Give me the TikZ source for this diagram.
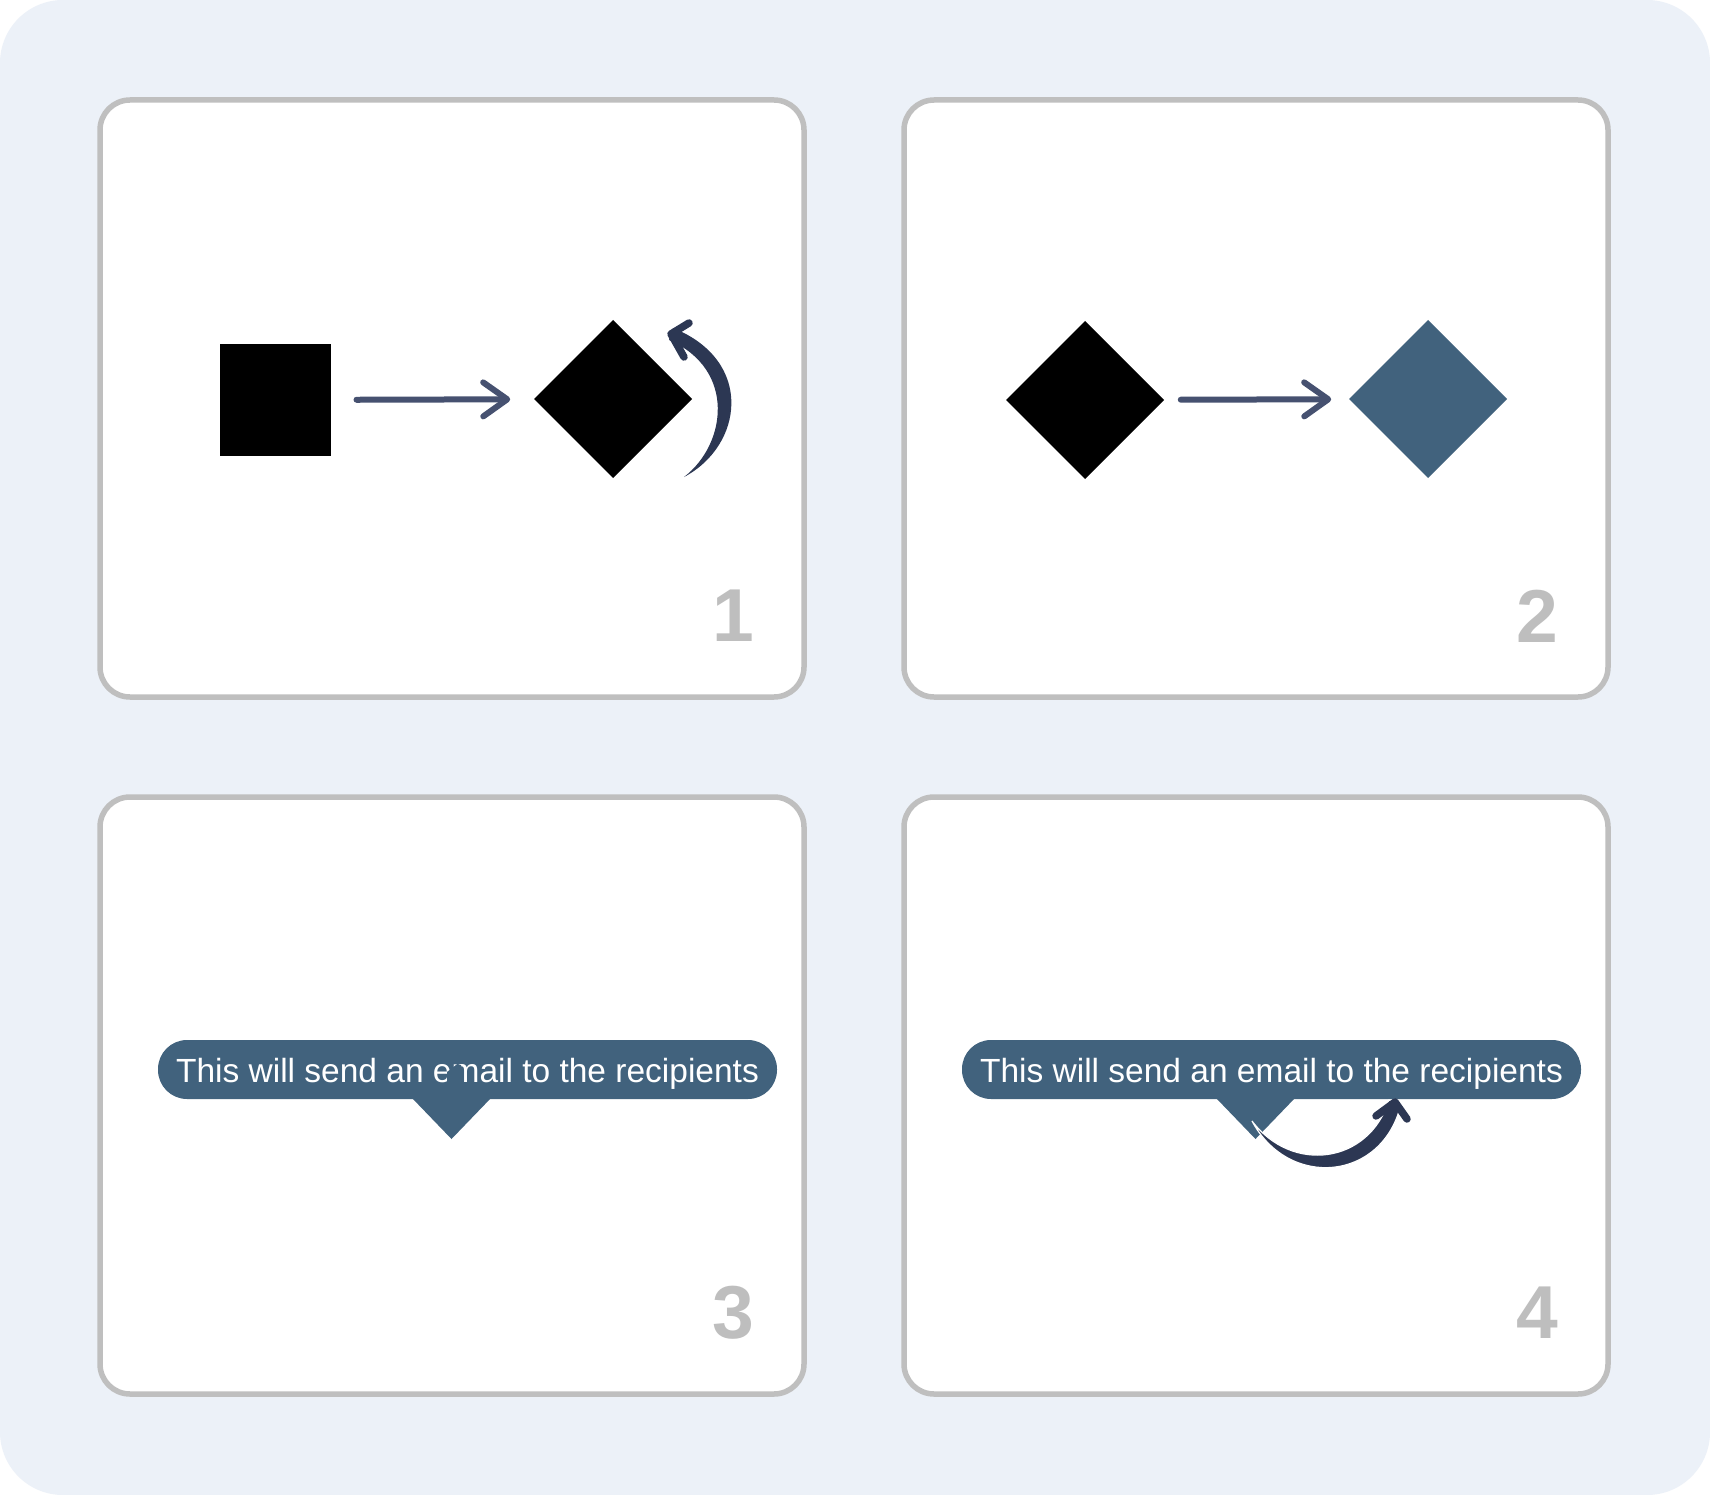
\documentclass[tikz,border=0pt]{standalone}
\usepackage{fontspec}
\setmainfont{Liberation Sans}
\usetikzlibrary{shapes.geometric,arrows.meta,calc}
\definecolor{bgc}{HTML}{ECF1F8}
\definecolor{panelc}{HTML}{BFBFBF}
\definecolor{tipc}{HTML}{41627D}
\definecolor{arrc}{HTML}{465170}
\definecolor{navyc}{HTML}{2C3753}
\definecolor{numc}{HTML}{BEBEBE}
\begin{document}
\begin{tikzpicture}[x=1pt,y=-1pt,
  panel/.style={draw=panelc, line width=5.5pt, fill=white, rounded corners=30pt,
    minimum width=704pt, minimum height=597pt, inner sep=0pt, outer sep=0pt},
  sqbox/.style={rectangle, fill=black, minimum size=111pt, inner sep=0pt, outer sep=0pt},
  dia/.style={diamond, aspect=1, minimum width=158pt, minimum height=158pt, inner sep=0pt, outer sep=0pt},
  flowarrow/.style={draw=arrc, line width=6pt, line cap=round,
    -{Straight Barb[length=24pt,width=34pt,round]}},
  tipbox/.style={rectangle, fill=tipc, text=white, rounded corners=29pt,
    minimum width=619pt, minimum height=59pt, inner sep=0pt,
    text height=28pt, text depth=3pt,
    font=\fontsize{33.5}{40}\selectfont},
  numlbl/.style={text=numc, inner sep=0pt, font=\fontsize{75}{90}\selectfont\bfseries},
  chev/.style={draw=navyc, line width=7.5pt, line cap=round, line join=round},
]
\useasboundingbox (0,0) rectangle (1710,1495);
\fill[white] (0,0) rectangle (1710,1495);
\fill[bgc, rounded corners=63pt] (0,0) rectangle (1710,1495);

% panels
\node[panel] (p1) at (452,398.5) {};
\node[panel] (p2) at (1256,398.5) {};
\node[panel] (p3) at (452,1095.5) {};
\node[panel] (p4) at (1256,1095.5) {};

% numbers
\node[numlbl] (n1) at (733,616) {1};
\node[numlbl] (n2) at (1537,616) {2};
\node[numlbl] (n3) at (733,1313) {3};
\node[numlbl] (n4) at (1537,1313) {4};

% panel 1
\node[sqbox] (sq) at (275,400) {};
\node[dia, fill=black] (d1) at (613,399) {};
\draw[flowarrow, shorten <=26pt, shorten >=24pt] (sq) -- (d1);
\coordinate (c1s) at (684,477);
\coordinate (c1e) at (671,334);
\fill[navyc] (c1s) .. controls (743,446) and (755,361) .. (673,328)
  -- (669,340) .. controls (736,369) and (727,444) .. (c1s) -- cycle;
\draw[chev] (689,323) -- (c1e) -- (684,357);

% panel 2
\node[dia, fill=black] (d2) at (1085,400) {};
\node[dia, fill=tipc] (d3) at (1428,399) {};
\draw[flowarrow, shorten <=17pt, shorten >=18pt] (d2) -- (d3);

% panel 3
\node[tipbox] (t3) at (467.5,1069.5) {This will send an email to the recipients};
\fill[tipc] (412,1098) -- (491,1098) -- (451.5,1139) -- cycle;
\fill[tipc] (447,1072) -- (456,1065) -- (461,1065) -- (461,1091) -- (447,1091) -- cycle;

% panel 4
\node[tipbox] (t4) at (1271.5,1069.5) {This will send an email to the recipients};
\fill[tipc] (1216,1098) -- (1295,1098) -- (1255.5,1139) -- cycle;
\coordinate (c4s) at (1252,1121);
\coordinate (c4e) at (1395,1102);
\filldraw[fill=navyc, draw=white, line width=1.2pt]
  (c4s) .. controls (1289,1190) and (1383,1181) .. (1401,1104)
  -- (1389,1100) .. controls (1369,1164) and (1292,1174) .. (c4s) -- cycle;
\draw[chev] (1376,1116) -- (c4e) -- (1407,1119);
\end{tikzpicture}
\end{document}
